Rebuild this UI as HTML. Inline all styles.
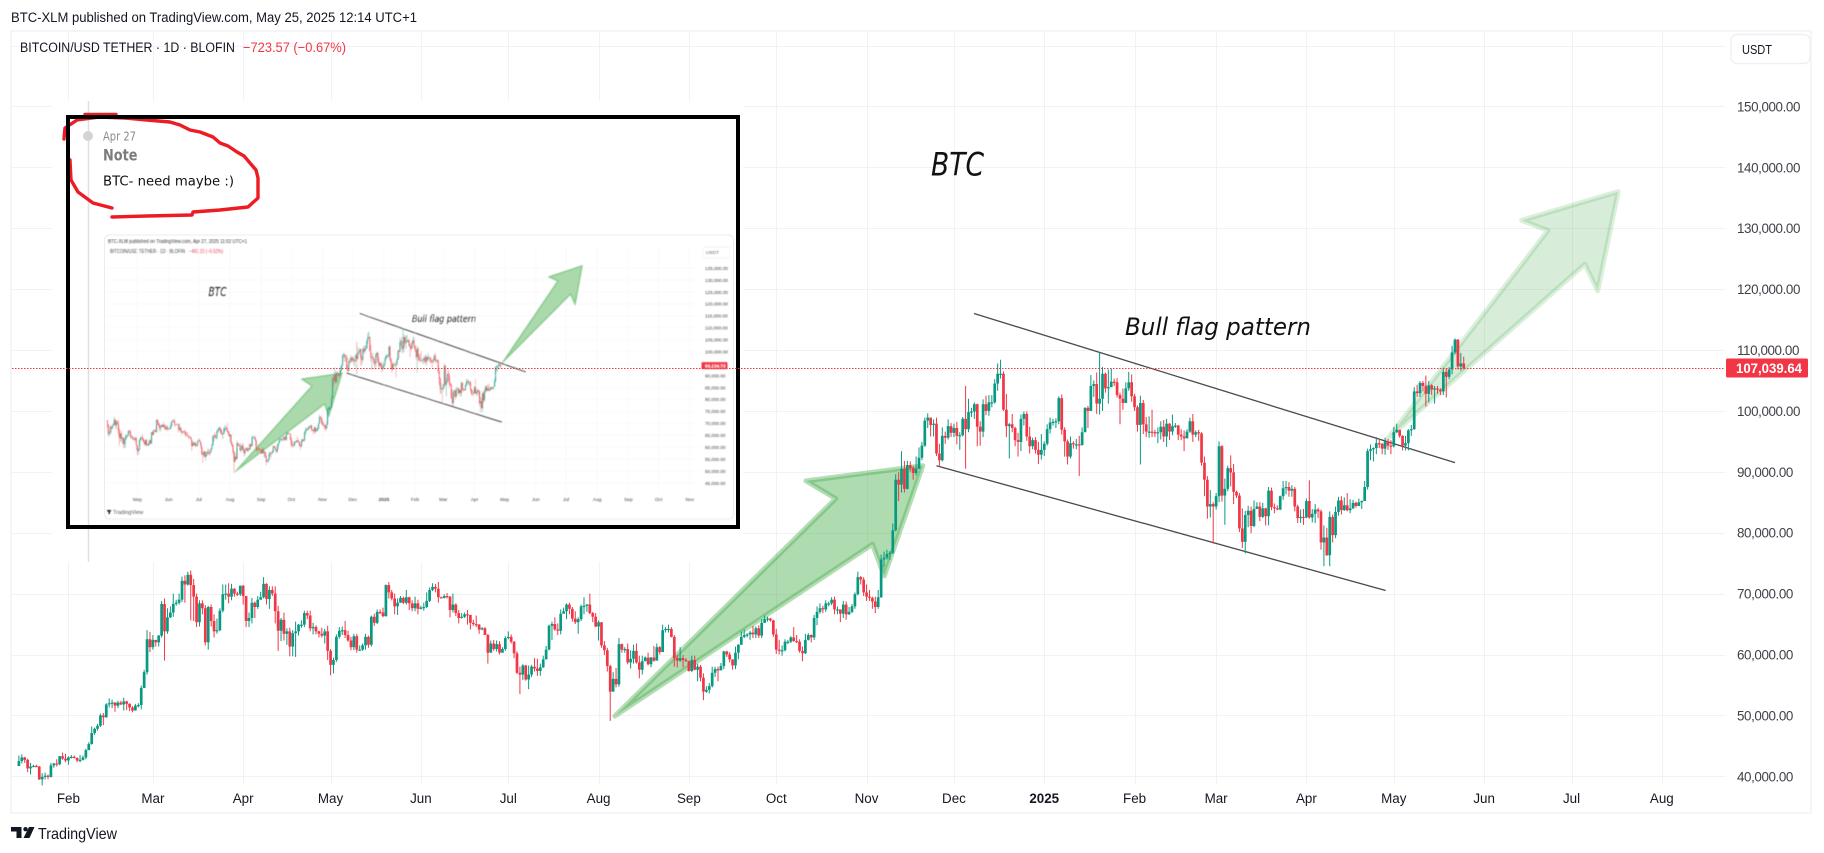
<!DOCTYPE html>
<html lang="en">
<head>
<meta charset="utf-8">
<title>BTC-XLM Bull flag chart</title>
<style>
html,body{margin:0;padding:0;background:#fff;width:1824px;height:853px;overflow:hidden}
svg{display:block;font-family:"Liberation Sans",sans-serif}
</style>
</head>
<body>
<svg id="chart" xmlns="http://www.w3.org/2000/svg" width="1824" height="853" viewBox="0 0 1824 853">
  <defs>
    <clipPath id="mini-clip"><rect x="106" y="240" width="625" height="270"></rect></clipPath>
    <filter id="soft" x="0" y="0" width="100%" height="100%"><feGaussianBlur stdDeviation="0.4"></feGaussianBlur></filter>
  </defs>
  <rect x="0" y="0" width="1824" height="853" fill="#ffffff"></rect>
  <rect x="11" y="31" width="1800" height="782" fill="none" stroke="#f4f5f6" stroke-width="2"></rect>
  <text x="11" y="22" font-size="13.5" fill="#131722" textLength="406" lengthAdjust="spacingAndGlyphs">BTC-XLM published on TradingView.com, May 25, 2025 12:14 UTC+1</text>
  <g id="grid"></g>
  <rect x="52" y="101" width="691" height="461" fill="#ffffff"></rect>
  <line x1="88.5" y1="101" x2="88.5" y2="562" stroke="#e0e0e0" stroke-width="1.5"></line>
  <text x="20" y="52" font-size="13.5" fill="#131722" textLength="215" lengthAdjust="spacingAndGlyphs">BITCOIN/USD TETHER · 1D · BLOFIN</text>
  <text x="243" y="52" font-size="13.5" fill="#f23645" textLength="103" lengthAdjust="spacingAndGlyphs">−723.57 (−0.67%)</text>
  <g id="axis-y"></g>
  <g id="axis-x"></g>
  <rect x="1731" y="34.5" width="79" height="29" rx="6" fill="#ffffff" stroke="#eef0f3" stroke-width="1.5"></rect>
  <text x="1742" y="54" font-size="13" fill="#131722" textLength="30" lengthAdjust="spacingAndGlyphs">USDT</text>

  <g>
    <rect x="68" y="117" width="670" height="410" fill="#ffffff"></rect>
    <line x1="88.5" y1="119" x2="88.5" y2="525" stroke="#e0e0e0" stroke-width="1.5"></line>
    <circle cx="88" cy="136" r="5" fill="#d4d4d4"></circle>
    <text x="103" y="140.5" font-family="'DejaVu Sans',sans-serif" font-size="12" fill="#8a8a8a" textLength="33" lengthAdjust="spacingAndGlyphs">Apr 27</text>
    <text x="103" y="160.7" font-family="'DejaVu Sans',sans-serif" font-size="16" font-weight="bold" fill="#7c7c7c" textLength="34.5" lengthAdjust="spacingAndGlyphs">Note</text>
    <text x="103" y="185.7" font-family="'DejaVu Sans',sans-serif" font-size="13.5" fill="#111111" textLength="131" lengthAdjust="spacingAndGlyphs">BTC- need maybe :)</text>
    <rect x="104.5" y="235" width="629" height="284" rx="5" fill="#ffffff" stroke="#ececec" stroke-width="1"></rect>
    <g filter="url(#soft)">
      <text x="108" y="243" font-size="5" fill="#333333" textLength="139" lengthAdjust="spacingAndGlyphs">BTC-XLM published on TradingView.com, Apr 27, 2025 11:02 UTC+1</text>
      <text x="110" y="253" font-size="5" fill="#444444" textLength="75" lengthAdjust="spacingAndGlyphs">BITCOIN/USD TETHER · 1D · BLOFIN</text>
      <text x="189" y="253" font-size="5" fill="#f23645" textLength="34" lengthAdjust="spacingAndGlyphs">−491.22 (−0.52%)</text>
      <rect x="703" y="247" width="27" height="11" rx="2" fill="#ffffff" stroke="#eeeeee" stroke-width="0.7"></rect>
      <text x="706" y="254" font-size="4.8" fill="#333333">USDT</text>
      <g id="mini-axes"></g>
      <g id="mini-plot" clip-path="url(#mini-clip)"></g>
      <text x="208.5" y="296" font-family="'DejaVu Sans',sans-serif" font-size="12" font-style="italic" fill="#111111" textLength="18" lengthAdjust="spacingAndGlyphs">BTC</text>
      <text x="412" y="322" font-family="'DejaVu Sans',sans-serif" font-size="10" font-style="italic" fill="#111111" textLength="64" lengthAdjust="spacingAndGlyphs">Bull flag pattern</text>
      <polygon points="107,510 111,510 111,511.5 110,511.5 110,514 108.5,514 108.5,511.5 107,511.5" fill="#222222"></polygon>
      <text x="113" y="514" font-size="5.5" fill="#555555">TradingView</text>
    </g>
    <path fill="none" stroke="#ed1c24" stroke-width="3.4" stroke-linejoin="round" stroke-linecap="round" d="M85 114.5 L116 114.5 M64 139 L65 128 L77 120 L100 117 L125 118 L147 120 L170 122 L180 125 L190 130 L200 132 L213 137 L220 143 L228 146 L237 152 L244 156 L250 163 L256 170 L258 178 L258 198 L248 207 L220 210 L193 212 L192 215 L147 216 L112 217 M70 160 L71 180 L78 192 L93 203 L112 208"></path>
    <rect x="68" y="117" width="670" height="410" fill="none" stroke="#000000" stroke-width="4"></rect>
  </g>

  <g id="annotations"></g>
  <g id="candles"></g>
  <text x="931" y="175.5" font-family="'DejaVu Sans',sans-serif" font-size="32" font-style="italic" fill="#111111" textLength="53" lengthAdjust="spacingAndGlyphs">BTC</text>
  <text x="1125" y="335" font-family="'DejaVu Sans',sans-serif" font-size="24" font-style="italic" fill="#111111" textLength="186" lengthAdjust="spacingAndGlyphs">Bull flag pattern</text>
  <g id="last-price"></g>

  <g>
    <path d="M11 827 H21.5 V838 H16.5 V831.5 H11 Z M29 827 H34.5 L29.5 838 H23.5 Z" fill="#131722"></path>
    <circle cx="25.5" cy="829.2" r="2.2" fill="#131722"></circle>
    <text x="38" y="839" font-size="16" fill="#131722" textLength="79" lengthAdjust="spacingAndGlyphs">TradingView</text>
  </g>
</svg>

<script>
// Daily candles in thousands of USD, one entry per day from 15 Jan 2024 to 25 May 2025.
const firstOpen = 41.7;
const closes = [
/*Jan24*/42.5,43.1,42.7,41.3,41.6,41.7,41.6,39.5,39.9,40.1,39.9,41.8,42.1,42.0,43.3,42.9,42.6,
/*Feb24*/43.1,43.2,43.0,42.6,42.7,43.1,44.3,45.3,47.1,47.8,48.3,50.0,49.7,51.8,52.0,52.1,51.6,52.1,51.8,52.3,51.9,51.3,50.8,51.6,51.7,54.5,57.1,62.5,61.2,
/*Mar24*/62.4,62.0,63.1,68.3,63.8,66.1,66.9,68.3,68.5,69.0,72.1,71.5,73.1,71.4,69.5,65.3,68.4,67.6,62.0,67.8,65.5,63.8,64.0,67.2,69.9,70.0,69.5,70.8,70.0,69.9,71.3,
/*Apr24*/69.6,65.5,66.0,68.5,67.8,69.0,69.4,71.6,69.1,70.6,70.0,67.1,63.9,65.7,63.4,63.8,61.3,63.5,63.8,64.9,64.9,66.8,66.4,64.3,64.5,63.8,63.4,63.1,63.8,60.6,
/*May24*/58.3,59.1,62.9,63.9,64.0,63.2,62.3,61.2,63.0,60.8,60.8,61.5,62.9,61.6,66.2,65.2,67.0,66.9,66.3,71.4,70.2,69.2,67.9,68.5,69.3,68.5,69.4,68.4,67.6,68.4,67.5,
/*Jun24*/67.7,67.8,68.8,70.6,71.1,70.8,69.4,69.3,69.6,69.5,67.3,68.2,66.8,66.0,66.2,66.6,66.5,65.2,65.0,64.9,64.1,64.3,63.2,60.3,61.8,60.9,61.7,60.3,60.9,62.7,
/*Jul24*/62.9,62.1,60.2,57.0,56.7,58.2,55.9,56.7,58.0,57.7,57.3,57.9,59.2,60.8,64.7,65.0,64.1,63.9,66.7,67.1,68.2,67.5,65.9,65.3,65.8,67.9,68.0,68.2,66.8,66.2,64.6,
/*Aug24*/65.3,61.5,60.7,58.1,53.9,56.0,55.1,61.7,60.8,60.9,58.7,59.3,60.6,58.7,57.5,58.9,59.5,58.4,59.5,59.0,61.2,60.4,64.0,64.2,64.2,62.9,59.4,59.0,59.4,59.1,58.9,
/*Sep24*/57.3,59.1,57.5,58.0,56.2,53.9,54.2,54.8,57.0,57.6,57.4,58.1,60.5,60.0,59.2,58.2,60.3,61.6,62.9,63.2,63.3,63.6,63.3,64.3,63.1,65.2,65.8,65.9,65.6,63.3,
/*Oct24*/60.8,60.6,60.7,62.1,62.1,62.8,62.2,62.1,60.6,60.2,62.4,63.2,62.8,66.0,67.0,67.6,67.4,68.4,68.4,69.0,67.4,67.4,66.7,68.2,66.6,67.0,67.9,69.9,72.7,72.3,70.2,
/*Nov24*/69.5,69.3,68.7,67.8,69.4,75.6,75.9,76.5,76.7,80.4,88.7,87.9,90.5,87.2,91.1,90.6,89.8,90.5,92.3,94.3,98.4,98.9,97.7,97.9,93.0,91.9,95.9,95.6,97.5,96.4,
/*Dec24*/97.2,95.9,96.0,98.7,97.0,99.8,99.9,101.1,97.4,96.6,101.1,100.0,101.4,101.4,104.5,106.1,106.1,100.2,97.5,97.8,97.2,95.2,94.9,98.7,99.5,95.8,94.2,95.2,93.6,92.8,93.6,
/*Jan25*/94.6,97.0,98.1,98.2,98.3,102.1,96.9,95.0,92.5,94.7,94.5,94.5,94.4,96.5,100.5,100.0,104.1,104.4,101.2,102.0,106.1,103.7,103.9,104.8,104.7,102.6,102.0,101.3,103.7,104.7,102.4,
/*Feb25*/100.6,97.7,101.3,97.8,96.6,96.6,96.5,96.4,96.5,97.4,95.8,97.9,96.6,97.5,97.6,96.1,95.8,95.5,96.6,98.3,96.1,96.5,96.3,91.5,88.7,84.3,84.7,84.3,
/*Mar25*/86.0,94.2,86.1,87.2,90.6,89.9,86.7,86.1,80.7,78.5,82.9,83.6,81.1,83.9,84.3,82.6,84.0,82.7,86.9,84.2,84.0,83.8,86.0,87.3,87.5,86.9,87.2,84.3,82.4,82.6,82.5,
/*Apr25*/85.2,82.5,83.1,83.8,83.5,78.4,79.2,76.3,82.6,79.6,83.4,85.3,83.7,84.5,83.7,84.0,84.9,84.4,85.0,85.2,87.5,93.4,93.7,93.9,94.7,94.6,93.8,95.0,94.3,94.2,
/*May25*/96.5,96.9,95.9,94.3,94.7,96.8,97.0,103.2,102.9,104.6,104.1,102.8,104.2,103.5,103.7,103.5,103.2,106.4,105.6,106.8,109.6,111.7,107.3,107.8,107.04
];
const highs = [
/*Jan24*/43.4,43.6,43.2,42.9,42.2,41.9,41.9,41.7,40.5,40.6,40.3,42.2,42.2,42.8,43.3,43.9,43.7,
/*Feb24*/43.3,43.5,43.4,43.1,43.5,43.4,44.5,45.6,48.2,48.0,48.6,50.3,50.4,52.0,52.8,52.6,52.2,52.4,52.4,52.9,52.4,52.0,51.5,51.9,52.0,54.9,57.5,64.0,63.7,
/*Mar24*/63.2,62.4,63.2,68.8,69.2,67.6,67.9,70.0,69.0,70.0,72.8,73.0,73.6,73.8,72.4,70.0,68.9,68.9,68.1,68.0,68.2,66.6,65.9,67.6,71.5,71.5,71.7,71.6,70.9,70.3,71.3,
/*Apr24*/71.4,69.6,66.9,69.3,68.7,69.6,70.3,72.7,71.7,71.2,71.2,71.2,68.0,66.0,66.9,64.3,64.4,64.0,65.4,65.0,65.6,67.2,67.2,67.2,65.2,64.8,63.9,64.4,64.2,64.7,
/*May24*/60.9,59.5,63.3,64.5,64.6,65.5,63.9,62.9,63.4,63.4,61.5,61.8,63.4,63.1,66.4,66.7,67.4,67.4,67.7,71.5,71.9,70.6,70.0,69.2,69.6,69.5,70.6,69.5,68.9,69.5,69.0,
/*Jun24*/68.0,68.5,70.2,71.0,71.7,71.6,71.9,69.5,69.9,70.1,69.6,70.0,68.4,67.3,66.8,66.9,67.3,66.5,65.7,66.4,65.0,64.5,64.5,63.4,62.3,62.4,62.3,62.2,61.2,63.0,
/*Jul24*/63.8,63.3,62.2,60.5,58.0,58.4,58.3,58.2,58.3,59.4,59.3,58.5,59.8,61.4,64.9,65.4,66.1,65.1,67.4,67.7,68.4,68.5,67.8,67.1,66.1,68.2,69.4,68.3,70.0,67.0,66.8,
/*Aug24*/65.6,65.0,62.2,61.1,58.3,57.1,57.8,62.7,61.8,61.2,61.8,60.7,61.6,61.8,59.8,59.8,59.7,60.3,59.6,61.4,61.8,61.4,64.9,64.5,64.9,64.5,63.2,59.9,61.2,59.9,59.4,
/*Sep24*/59.0,59.8,59.8,58.5,58.3,56.9,54.8,55.3,58.0,58.0,58.0,58.6,60.6,60.6,60.4,59.2,61.3,61.7,63.8,64.1,63.5,63.9,64.7,64.6,64.8,65.8,66.4,66.2,66.0,65.7,
/*Oct24*/64.2,62.4,61.5,62.5,62.4,63.0,64.5,63.2,62.5,61.3,63.4,63.5,63.3,66.5,67.9,68.4,68.0,68.9,68.7,69.4,69.5,67.9,67.4,68.8,68.7,67.8,68.3,70.2,73.6,72.9,72.7,
/*Nov24*/71.5,70.6,69.5,69.5,70.6,76.4,76.9,77.2,77.0,81.5,89.6,89.9,93.4,91.8,91.8,91.7,91.0,92.5,94.0,94.9,98.9,99.6,98.8,98.6,98.9,94.6,97.3,96.6,98.6,98.0,
/*Dec24*/97.9,98.2,96.5,99.0,104.1,102.0,100.5,101.4,101.2,98.3,101.9,102.5,102.6,102.6,105.2,107.8,108.4,106.5,102.8,98.0,99.5,97.4,96.4,99.4,99.9,99.9,97.4,95.6,95.7,94.9,96.2,
/*Jan25*/95.0,97.8,98.9,98.7,98.8,102.4,102.7,97.3,95.3,95.8,95.0,95.4,95.9,97.3,100.6,100.8,105.9,105.0,106.3,109.6,107.2,106.3,106.8,107.0,105.3,105.4,103.0,103.7,104.7,106.4,106.0,
/*Feb25*/102.8,100.9,102.5,101.8,99.0,99.1,100.2,96.9,97.3,98.3,98.5,98.7,98.0,99.4,98.0,97.7,97.0,96.8,97.0,98.9,99.5,96.8,96.9,96.5,92.5,89.3,87.0,85.0,
/*Mar25*/86.5,95.0,94.4,88.9,91.0,92.7,91.3,86.9,86.5,84.0,83.6,84.4,84.3,85.3,85.0,85.0,84.9,84.1,87.5,87.4,84.8,84.5,86.1,88.5,88.5,88.3,87.8,87.5,84.6,83.8,83.9,
/*Apr25*/85.6,88.6,83.9,84.7,84.1,83.8,81.2,80.8,83.5,83.0,84.3,85.9,86.0,85.8,86.5,85.5,85.4,85.1,85.6,85.3,88.5,93.8,94.5,94.0,95.7,95.4,94.7,95.6,95.4,95.2,
/*May25*/97.4,97.9,96.9,96.0,95.9,97.0,97.7,103.9,104.3,104.9,104.9,105.8,104.9,104.4,104.1,104.1,103.7,107.1,107.0,107.2,110.7,111.9,111.8,109.5,108.9
];
const lows = [
/*Jan24*/41.7,42.1,42.2,40.7,40.3,41.5,41.5,39.4,38.5,39.5,39.5,39.8,41.4,41.6,41.8,42.7,42.3,
/*Feb24*/41.9,42.9,42.9,42.3,42.3,42.6,42.8,44.3,45.2,46.8,47.5,48.1,48.4,49.6,51.3,51.2,50.6,51.2,51.7,50.8,50.9,50.7,50.5,50.9,51.3,51.0,54.5,56.7,60.4,
/*Mar24*/60.8,61.3,61.3,62.8,59.0,63.4,66.0,66.2,68.0,68.2,68.6,68.5,71.3,65.6,65.5,64.5,64.6,66.6,61.5,60.8,64.6,62.8,63.4,63.8,66.9,69.0,68.4,68.9,69.5,69.6,69.6,
/*Apr24*/68.2,64.5,64.5,65.1,66.0,67.5,69.0,69.2,68.2,67.5,69.6,65.1,60.6,62.2,62.3,61.6,59.7,59.7,59.6,63.1,64.4,64.5,65.8,63.8,63.3,63.3,62.8,62.8,61.8,59.1,
/*May24*/56.6,56.9,58.8,62.6,63.2,62.7,62.1,60.7,60.7,60.3,60.6,60.6,60.8,61.1,61.3,64.7,65.0,66.6,66.1,66.2,69.2,68.9,66.6,66.5,68.5,68.3,68.2,67.3,67.1,67.1,66.6,
/*Jun24*/67.4,67.2,67.6,68.6,70.4,70.2,68.5,69.2,69.2,69.2,66.1,66.9,66.3,65.1,65.9,66.0,64.9,64.1,64.7,64.5,63.4,64.0,63.2,58.5,60.6,60.6,60.5,60.0,60.4,60.6,
/*Jul24*/62.5,61.8,59.4,56.8,53.5,55.8,55.7,54.3,56.3,57.2,56.5,56.5,57.8,59.8,60.7,62.4,63.9,63.2,63.3,66.7,65.8,66.6,65.4,65.0,63.4,65.5,66.6,67.0,66.6,65.3,64.5,
/*Aug24*/62.3,61.1,59.9,57.2,49.1,53.9,54.6,54.7,60.3,60.3,58.4,57.7,58.5,58.5,56.1,56.7,58.9,58.2,57.9,58.8,59.0,60.0,60.4,63.6,63.6,62.8,58.0,57.9,58.8,57.9,58.8,
/*Sep24*/57.2,57.1,57.4,55.6,55.6,52.5,53.7,53.6,54.6,56.3,55.6,57.5,57.6,59.6,58.7,57.5,57.6,59.2,61.6,62.7,62.8,62.4,62.7,62.7,62.7,62.7,65.2,65.4,65.4,62.9,
/*Oct24*/60.1,60.0,59.8,60.5,61.7,61.9,62.1,61.9,60.3,58.9,60.1,62.3,62.0,62.4,64.8,66.7,66.8,67.0,67.9,68.1,66.6,66.6,65.3,66.0,65.7,66.5,66.8,67.5,69.7,71.5,69.6,
/*Nov24*/68.8,68.8,67.5,66.8,67.5,69.3,74.4,75.6,75.5,76.5,80.2,85.2,86.6,86.6,87.1,90.0,88.7,89.4,90.8,91.9,94.1,97.2,95.8,95.8,92.6,90.8,91.7,94.6,95.3,95.7,
/*Dec24*/95.7,94.5,93.6,95.8,90.5,96.5,99.0,98.7,94.2,94.3,95.7,99.3,99.2,100.6,101.2,103.3,105.3,100.0,95.7,92.2,96.5,94.2,92.5,93.4,97.6,95.1,93.0,93.7,93.0,91.3,92.0,
/*Jan25*/92.6,94.3,96.3,97.6,97.2,97.8,96.1,92.5,91.2,92.2,93.8,93.7,89.3,94.3,96.5,97.2,100.0,102.3,99.5,99.4,100.0,103.0,101.2,103.9,104.1,102.2,97.8,100.2,101.3,103.3,101.5,
/*Feb25*/100.0,96.6,91.2,96.2,95.7,95.6,95.7,95.7,94.7,95.3,94.9,94.1,95.2,96.0,97.2,95.2,95.2,93.4,95.5,96.4,94.9,95.7,95.1,91.0,86.0,82.3,82.5,78.2,
/*Mar25*/83.8,85.0,85.1,81.3,86.8,87.6,84.7,85.7,80.1,77.5,76.6,80.9,79.9,80.9,83.9,81.9,82.4,81.2,81.2,83.7,83.2,83.7,83.7,85.4,86.3,85.9,85.9,83.5,81.6,81.6,81.3,
/*Apr25*/82.4,82.3,81.7,81.6,82.4,77.2,74.5,76.2,74.5,78.4,79.1,82.8,83.0,83.6,83.5,83.2,83.9,84.1,84.4,83.9,85.2,87.1,91.9,91.7,92.9,93.9,92.9,92.8,93.6,92.9,
/*May25*/94.0,96.4,95.6,93.5,93.5,93.5,95.9,96.9,102.3,102.3,103.2,100.7,101.4,102.6,101.2,102.8,102.6,102.6,102.2,105.2,106.0,109.3,106.8,106.6,106.8
];

// Price axis
const priceGridValues = [160,150,140,130,120,110,100,90,80,70,60,50,40];
const priceTickValues = [150,140,130,120,110,100,90,80,70,60,50,40];
const priceTickLabels = ["150,000.00","140,000.00","130,000.00","120,000.00","110,000.00","100,000.00","90,000.00","80,000.00","70,000.00","60,000.00","50,000.00","40,000.00"];
// Time axis: day index since 15 Jan 2024
const timeTickDays = [17,46,77,107,138,168,199,230,260,291,321,352,383,411,442,472,503,533,564];
const timeTickLabels = ["Feb","Mar","Apr","May","Jun","Jul","Aug","Sep","Oct","Nov","Dec","2025","Feb","Mar","Apr","May","Jun","Jul","Aug"];
// Last price
const lastPrice = 107.03964;
const lastPriceLabel = "107,039.64";
// Drawings, as [day index, price in thousands]
const arrowOne = [[204.6,49.9],[280.4,85.6],[270.2,88.5],[310.3,91.0],[297.1,72.9],[293,78.1]];
const arrowTwo = [[470,95.5],[524.9,129.6],[515.9,131.3],[549,136.0],[542,119.7],[537.6,124.1]];
const flagUpper = [[327.9,116.0],[493,91.5]];
const flagLower = [[315,91.0],[469.2,70.5]];
// Embedded screenshot: same instrument, published 27 Apr 2025
const miniFirstDay = 77;
const miniLastDay = 468;
const miniLastPrice = 94.13473;
const miniLastPriceLabel = "94,134.73";
const miniPriceTicks = [135,130,125,120,115,110,105,100,95,90,85,80,75,70,65,60,55,50,45];
const miniPriceLabels = ["135,000.00","130,000.00","125,000.00","120,000.00","115,000.00","110,000.00","105,000.00","100,000.00","95,000.00","90,000.00","85,000.00","80,000.00","75,000.00","70,000.00","65,000.00","60,000.00","55,000.00","50,000.00","45,000.00"];
const miniTimeDays = [77,107,138,168,199,230,260,291,321,352,383,411,442,472,503,533,564,595,625,656];
const miniTimeLabels = ["Apr","May","Jun","Jul","Aug","Sep","Oct","Nov","Dec","2025","Feb","Mar","Apr","May","Jun","Jul","Aug","Sep","Oct","Nov"];

const NS = "http://www.w3.org/2000/svg";
const UP = "#089981", DOWN = "#f23645";
const xMain = d => 68.4 + (d - 17) * 2.913;
const yMain = p => 776.3 - (p - 40) * 6.09;
const xMini = d => 230 + (d - 199) * 1.006;
const yMini = p => 483 - (p - 45) * 2.388;
const crisp = v => Math.round(v) + 0.5;

function make(tag, attrs, parent, text) {
  const el = document.createElementNS(NS, tag);
  for (const k in attrs) el.setAttribute(k, attrs[k]);
  if (text !== undefined) el.textContent = text;
  parent.appendChild(el);
  return el;
}
function openOf(i) { return i === 0 ? firstOpen : closes[i - 1]; }
function pointsOf(arr, xf, yf) { return arr.map(p => xf(p[0]).toFixed(1) + "," + yf(p[1]).toFixed(1)).join(" "); }

// Main grid
const grid = document.getElementById("grid");
priceGridValues.forEach(function (v) {
  const el = make("line", {x1: 12, x2: 1725, y1: crisp(yMain(v)), y2: crisp(yMain(v)), stroke: "#f1f2f4", "stroke-width": 1}, grid);
  
  
});
timeTickDays.forEach(function (d) {
  const el = make("line", {x1: crisp(xMain(d)), x2: crisp(xMain(d)), y1: 32, y2: 784, stroke: "#f1f2f4", "stroke-width": 1}, grid);
  
  
});

// Axes
const axisY = document.getElementById("axis-y");
priceTickValues.forEach(function (v, i) {
  const el = make("text", {x: 1737, y: yMain(v) + 5, "font-size": 13.4, "letter-spacing": -0.4, fill: "#3e4148"}, axisY, priceTickLabels[i]);
  
  
});
const axisX = document.getElementById("axis-x");
timeTickDays.forEach(function (d, i) {
  const bold = timeTickLabels[i] === "2025";
  const el = make("text", {x: xMain(d), y: 803, "font-size": 13.4, "text-anchor": "middle", fill: "#131722", "font-weight": bold ? "bold" : "normal"}, axisX, timeTickLabels[i]);
  
  
});

// Drawings
const drawings = document.getElementById("annotations");
const arrowMainOne = make("polygon", {points: pointsOf(arrowOne, xMain, yMain), fill: "rgba(76,175,80,0.45)", stroke: "rgba(76,175,80,0.42)", "stroke-width": 5, "stroke-linejoin": "round"}, drawings);


const arrowMainTwo = make("polygon", {points: pointsOf(arrowTwo, xMain, yMain), fill: "rgba(76,175,80,0.22)", stroke: "rgba(76,175,80,0.2)", "stroke-width": 5, "stroke-linejoin": "round"}, drawings);


const upperMain = make("line", {x1: xMain(flagUpper[0][0]), y1: yMain(flagUpper[0][1]), x2: xMain(flagUpper[1][0]), y2: yMain(flagUpper[1][1]), stroke: "#4a4a4a", "stroke-width": 1.3}, drawings);


const lowerMain = make("line", {x1: xMain(flagLower[0][0]), y1: yMain(flagLower[0][1]), x2: xMain(flagLower[1][0]), y2: yMain(flagLower[1][1]), stroke: "#4a4a4a", "stroke-width": 1.3}, drawings);



// Main candles
const candleLayer = document.getElementById("candles");
closes.forEach(function (c, i) {
  const o = openOf(i);
  const color = c >= o ? UP : DOWN;
  const x = xMain(i);
  const top = Math.max(highs[i], o, c);
  const bottom = Math.min(lows[i], o, c);
  const wick = make("line", {x1: x, x2: x, y1: yMain(top), y2: yMain(bottom), stroke: color, "stroke-width": 1}, candleLayer);
  
  
  const bodyTop = yMain(Math.max(o, c));
  const bodyH = Math.max(1.2, Math.abs(yMain(o) - yMain(c)));
  const body = make("rect", {x: x - 1.35, y: bodyTop, width: 2.7, height: bodyH, fill: color}, candleLayer);
  
  
});

// Last price line and tag
const lastLayer = document.getElementById("last-price");
const lastLine = make("line", {x1: 12, x2: 1725, y1: crisp(yMain(lastPrice)), y2: crisp(yMain(lastPrice)), stroke: "#f23645", "stroke-width": 1, "stroke-dasharray": "1.5 1.5"}, lastLayer);


const lastTag = make("rect", {x: 1726, y: yMain(lastPrice) - 9.5, width: 82, height: 19, rx: 1.5, fill: "#f23645"}, lastLayer);


const lastText = make("text", {x: 1736, y: yMain(lastPrice) + 5, "font-size": 13.4, "font-weight": "bold", fill: "#ffffff", textLength: 66, lengthAdjust: "spacingAndGlyphs"}, lastLayer, lastPriceLabel);



// Embedded screenshot axes
const miniAxes = document.getElementById("mini-axes");
miniPriceTicks.forEach(function (v, i) {
  const line = make("line", {x1: 107, x2: 700, y1: yMini(v), y2: yMini(v), stroke: "#f7f7f7", "stroke-width": 0.7}, miniAxes);
  
  
  const label = make("text", {x: 705, y: yMini(v) + 1.8, "font-size": 4.6, fill: "#444444"}, miniAxes, miniPriceLabels[i]);
  
  
});
miniTimeDays.forEach(function (d, i) {
  if (i > 0) {
    const line = make("line", {x1: xMini(d), x2: xMini(d), y1: 247, y2: 494, stroke: "#f7f7f7", "stroke-width": 0.7}, miniAxes);
    
    
    const label = make("text", {x: xMini(d), y: 501, "font-size": 4.8, "text-anchor": "middle", fill: "#444444", "font-weight": miniTimeLabels[i] === "2025" ? "bold" : "normal"}, miniAxes, miniTimeLabels[i]);
    
    
  }
});
const miniTag = make("rect", {x: 701.5, y: yMini(miniLastPrice) - 3.5, width: 26, height: 7, rx: 1, fill: "#f23645"}, miniAxes);


const miniTagText = make("text", {x: 705, y: yMini(miniLastPrice) + 1.8, "font-size": 4.6, "font-weight": "bold", fill: "#ffffff"}, miniAxes, miniLastPriceLabel);



// Embedded screenshot plot
const miniPlot = document.getElementById("mini-plot");
const miniArrowOne = make("polygon", {points: pointsOf(arrowOne, xMini, yMini), fill: "rgba(76,175,80,0.48)", stroke: "rgba(76,175,80,0.45)", "stroke-width": 1.6, "stroke-linejoin": "round"}, miniPlot);


const miniArrowTwo = make("polygon", {points: pointsOf(arrowTwo, xMini, yMini), fill: "rgba(76,175,80,0.48)", stroke: "rgba(76,175,80,0.45)", "stroke-width": 1.6, "stroke-linejoin": "round"}, miniPlot);


const miniUpper = make("line", {x1: xMini(flagUpper[0][0]), y1: yMini(flagUpper[0][1]), x2: xMini(flagUpper[1][0]), y2: yMini(flagUpper[1][1]), stroke: "#444444", "stroke-width": 1}, miniPlot);


const miniLower = make("line", {x1: xMini(flagLower[0][0]), y1: yMini(flagLower[0][1]), x2: xMini(flagLower[1][0]), y2: yMini(flagLower[1][1]), stroke: "#444444", "stroke-width": 1}, miniPlot);


closes.forEach(function (c, i) {
  if (i < miniFirstDay || i > miniLastDay) return;
  const o = openOf(i);
  const color = c >= o ? UP : DOWN;
  const x = xMini(i);
  const wick = make("line", {x1: x, x2: x, y1: yMini(Math.max(highs[i], o, c)), y2: yMini(Math.min(lows[i], o, c)), stroke: color, "stroke-width": 0.5, "stroke-opacity": 0.75}, miniPlot);
  
  
  const body = make("rect", {x: x - 0.45, y: yMini(Math.max(o, c)), width: 0.9, height: Math.max(0.5, Math.abs(yMini(o) - yMini(c))), fill: color}, miniPlot);
  
  
});
</script>
</body>
</html>
